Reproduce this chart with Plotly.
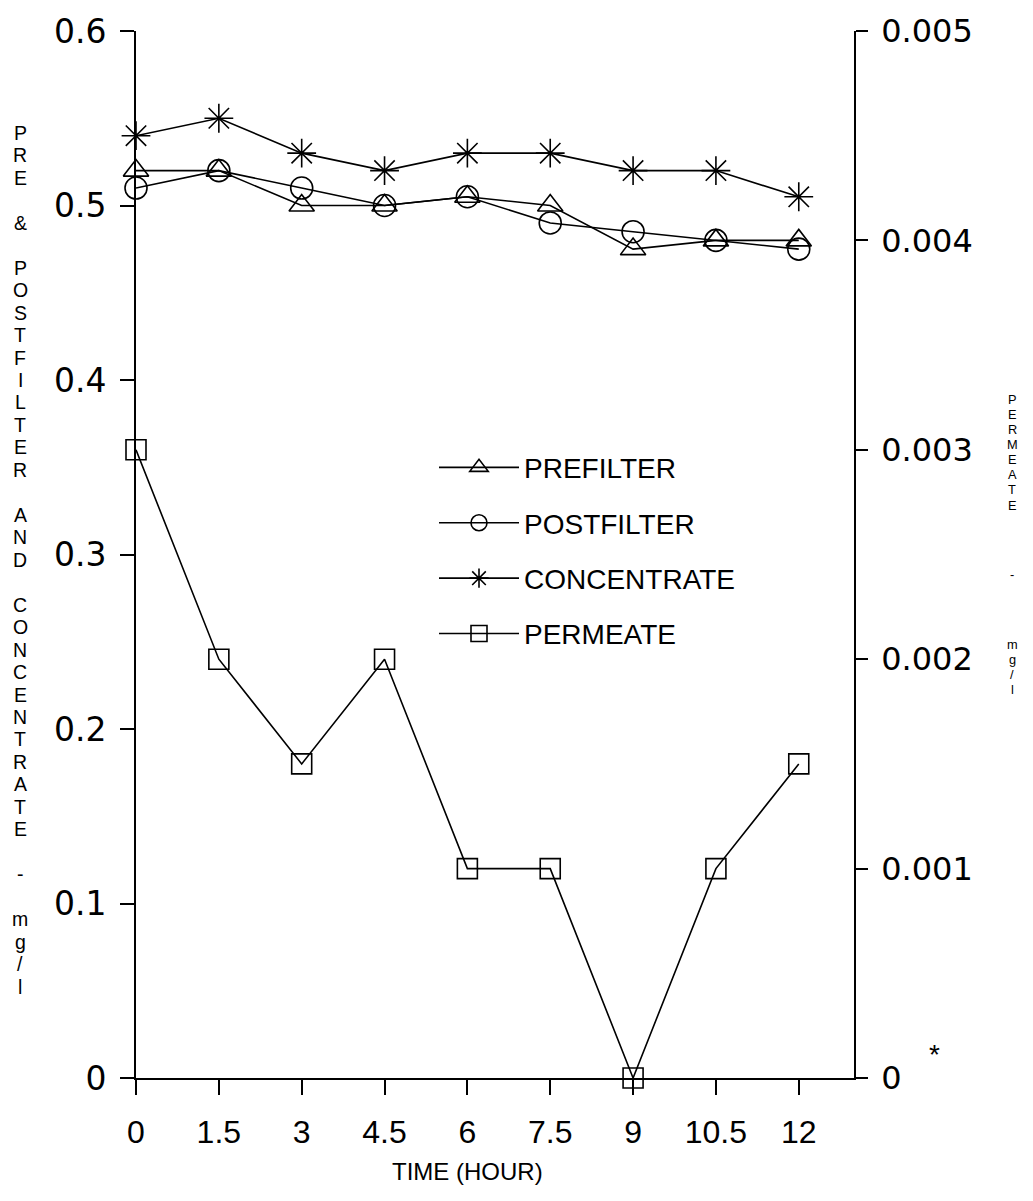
import plotly.graph_objects as go

# ---- data ----
time_hr = [0, 1.5, 3, 4.5, 6, 7.5, 9, 10.5, 12]
x_ticktext = ["0", "1.5", "3", "4.5", "6", "7.5", "9", "10.5", "12"]
prefilter = [0.52, 0.52, 0.50, 0.50, 0.505, 0.50, 0.475, 0.48, 0.48]
postfilter = [0.51, 0.52, 0.51, 0.50, 0.505, 0.49, 0.485, 0.48, 0.475]
concentrate = [0.54, 0.55, 0.53, 0.52, 0.53, 0.53, 0.52, 0.52, 0.505]
permeate = [0.003, 0.002, 0.0015, 0.002, 0.001, 0.001, 0.0, 0.001, 0.0015]

y1_ticks = [0, 0.1, 0.2, 0.3, 0.4, 0.5, 0.6]
y1_ticktext = ["0", "0.1", "0.2", "0.3", "0.4", "0.5", "0.6"]
y2_ticks = [0, 0.001, 0.002, 0.003, 0.004, 0.005]
y2_ticktext = ["0", "0.001", "0.002", "0.003", "0.004", "0.005"]

left_title = "PRE & POSTFILTER AND CONCENTRATE - mg/l"
right_title = "PERMEATE - mg/l"
x_title = "TIME (HOUR)"

# ---- geometry ----
W, H = 1033, 1201
ML, MR, MT, MB = 136, 179, 20, 123
PW = W - ML - MR
PH = H - MT - MB

def px_to_paper_x(px):
    return (px - ML) / PW

def px_to_paper_y(py):
    return (H - MB - py) / PH

BLACK = "black"
LW = 1.6

fig = go.Figure()

def add_series(name, y, symbol, size, yaxis="y"):
    fig.add_trace(go.Scatter(
        x=time_hr, y=y, name=name, mode="lines+markers", yaxis=yaxis,
        line=dict(color=BLACK, width=LW),
        marker=dict(symbol=symbol, size=size, color=BLACK,
                    line=dict(color=BLACK, width=LW)),
        cliponaxis=False, legendgroup=name,
    ))

add_series("PREFILTER", prefilter, "triangle-up-open", 22)
add_series("POSTFILTER", postfilter, "circle-open", 22)
add_series("CONCENTRATE", concentrate, "asterisk-open", 24)
add_series("PERMEATE", permeate, "square-open", 20, yaxis="y2")

annotations = []

def stacked(text, x_px, y_start, step, gap, size):
    pos = y_start
    for ch in text:
        if ch == " ":
            pos += gap - step
        else:
            annotations.append(dict(
                text=ch, x=px_to_paper_x(x_px), y=px_to_paper_y(pos),
                xref="paper", yref="paper", showarrow=False,
                xanchor="center", yanchor="middle", borderpad=0,
                font=dict(family="Liberation Sans", size=size, color=BLACK)))
        pos += step

# left stacked title (upright letters)
stacked(left_title, 20, 123, 22.7, 22.7, 19.5)
# right stacked title
stacked(right_title, 1012, 392, 15.3, 55, 12.8)

annotations.append(dict(
    text=x_title, x=px_to_paper_x(467), y=px_to_paper_y(1172),
    xref="paper", yref="paper", showarrow=False,
    xanchor="center", yanchor="middle",
    font=dict(family="Liberation Sans", size=24, color=BLACK)))

annotations.append(dict(
    text="*", x=px_to_paper_x(934), y=px_to_paper_y(1054),
    xref="paper", yref="paper", showarrow=False,
    xanchor="center", yanchor="middle",
    font=dict(family="Liberation Sans", size=28, color=BLACK)))

fig.update_layout(
    width=W, height=H,
    margin=dict(l=ML, r=MR, t=MT, b=MB, pad=0),
    paper_bgcolor="white", plot_bgcolor="white",
    font=dict(family="Liberation Sans", color=BLACK),
    showlegend=True,
    legend=dict(
        x=px_to_paper_x(434), y=px_to_paper_y(436),
        xanchor="left", yanchor="top",
        bgcolor="rgba(0,0,0,0)", borderwidth=0,
        font=dict(family="Liberation Sans", size=28, color=BLACK),
        tracegroupgap=16, itemwidth=80,
    ),
    xaxis=dict(
        range=[0, 13], tickvals=time_hr, ticktext=x_ticktext,
        showgrid=False, zeroline=False,
        showline=True, linecolor=BLACK, linewidth=LW,
        ticks="outside", ticklen=15, tickwidth=LW, tickcolor=BLACK,
        tickfont=dict(family="Liberation Sans", size=32, color=BLACK),
        ticklabelstandoff=10,
    ),
    yaxis=dict(
        range=[0, 0.6], tickvals=y1_ticks, ticktext=y1_ticktext,
        showgrid=False, zeroline=False,
        showline=True, linecolor=BLACK, linewidth=LW,
        ticks="outside", ticklen=14, tickwidth=LW, tickcolor=BLACK,
        tickfont=dict(family="DejaVu Sans", size=33, color=BLACK),
        ticklabelstandoff=7,
    ),
    yaxis2=dict(
        range=[0, 0.005], tickvals=y2_ticks, ticktext=y2_ticktext,
        overlaying="y", side="right",
        showgrid=False, zeroline=False,
        showline=True, linecolor=BLACK, linewidth=LW,
        ticks="outside", ticklen=12, tickwidth=LW, tickcolor=BLACK,
        tickfont=dict(family="DejaVu Sans", size=32, color=BLACK),
        ticklabelstandoff=7,
    ),
    annotations=annotations,
)

fig.write_html("out.html")
